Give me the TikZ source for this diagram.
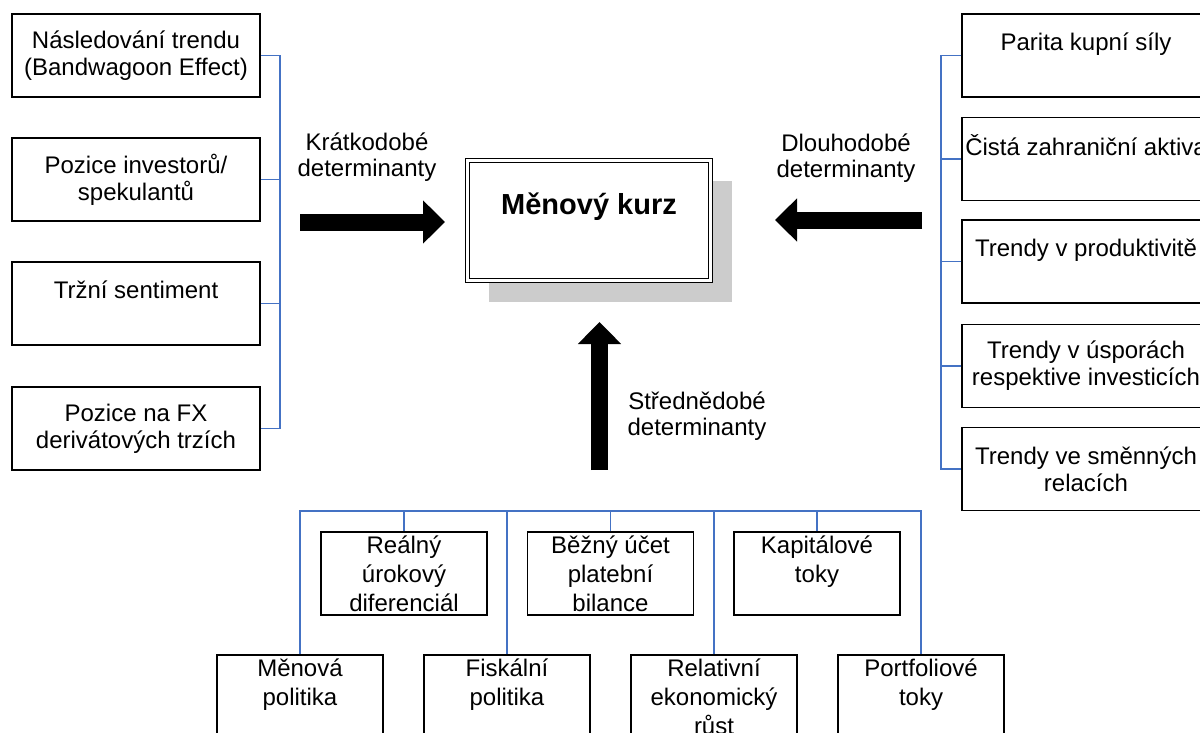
\documentclass[tikz,border=0pt]{standalone}
\usepackage{fontspec}
\setmainfont{Liberation Sans}
\usepackage{tikz}
\usetikzlibrary{arrows.meta, shadows}
\definecolor{busblue}{RGB}{68, 114, 196}
\definecolor{shadowgray}{RGB}{204, 204, 204}
\tikzset{
    factor/.style={rectangle, draw=black, line width=1.5pt, minimum width=248pt, minimum height=83pt, inner sep=0pt, align=center, font=\fontsize{24}{27}\selectfont},
    smallfactor/.style={factor, minimum width=166pt, font=\fontsize{24}{29}\selectfont},
    kurzbox/.style={rectangle, draw=black, line width=1.2pt, double, double distance=2.6pt, minimum width=243pt, minimum height=120pt, align=center, fill=white, font=\fontsize{29}{33}\selectfont\bfseries, drop shadow={shadow xshift=21pt, shadow yshift=-21pt, fill=shadowgray, opacity=1}},
    detlabel/.style={align=center, inner sep=0pt, font=\fontsize{24}{26}\selectfont},
    bline/.style={draw=busblue, line width=1.5pt},
    fatarrow/.style={line width=17pt, -{Triangle[length=22pt,width=42pt]}},
}

\begin{document}
\begin{tikzpicture}[x=1pt, y=-1pt]
  \useasboundingbox (0,0) rectangle (1200,733);
  \clip (0,0) rectangle (1200,733);

  \node[kurzbox] (kurz) at (589,220.5) {Měnový kurz\\~};

  \node[factor] (l1) at (136,55.5)  {Následování trendu\\(Bandwagoon Effect)};
  \node[factor] (l2) at (136,179.5) {Pozice investorů/\\spekulantů};
  \node[factor] (l3) at (136,303.5) {Tržní sentiment\\~};
  \node[factor] (l4) at (136,428.5) {Pozice na FX\\derivátových trzích};

  \node[factor] (r1) at (1086,55.5) {Parita kupní síly\\~};
  \node[factor] (r2) at (1086,159)  {Čistá zahraniční aktiva\\~};
  \node[factor] (r3) at (1086,261.5) {Trendy v produktivitě\\~};
  \node[factor] (r4) at (1086,366)  {Trendy v úsporách\\respektive investicích};
  \node[factor] (r5) at (1086,469)  {Trendy ve směnných\\relacích};

  \node[smallfactor] (t1) at (404,573.5)   {Reálný\\úrokový\\diferenciál};
  \node[smallfactor] (t2) at (610.5,573.5) {Běžný účet\\platební\\bilance};
  \node[smallfactor] (t3) at (817,573.5)   {Kapitálové\\toky\\~};

  \node[smallfactor] (b1) at (300,696.5) {Měnová\\politika\\~};
  \node[smallfactor] (b2) at (507,696.5) {Fiskální\\politika\\~};
  \node[smallfactor] (b3) at (714,696.5) {Relativní\\ekonomický\\růst};
  \node[smallfactor] (b4) at (921,696.5) {Portfoliové\\toky\\~};

  \node[detlabel] (kratko) at (367,157.5) {Krátkodobé\\determinanty};
  \node[detlabel] (dlouho) at (846,158.5) {Dlouhodobé\\determinanty};
  \node[detlabel] (stredne) at (697,416.5) {Střednědobé\\determinanty};

  \coordinate (lbus) at (280,0);
  \coordinate (rbus) at (941,0);
  \coordinate (bbus) at (0,511);

  \draw[bline] (l1.east) -- (l1.east -| lbus) -- (l4.east -| lbus) -- (l4.east);
  \foreach \n in {l2,l3}
    \draw[bline] (\n.east) -- (\n.east -| lbus);

  \draw[bline] (r1.west) -- (r1.west -| rbus) -- (r5.west -| rbus) -- (r5.west);
  \foreach \n in {r2,r3,r4}
    \draw[bline] (\n.west) -- (\n.west -| rbus);

  \draw[bline] (b1.north) -- (b1.north |- bbus) -- (b4.north |- bbus) -- (b4.north);
  \foreach \n in {t1,t2,t3,b2,b3}
    \draw[bline] (\n.north) -- (\n.north |- bbus);

  \coordinate (kfrom) at (300,222);
  \coordinate (kto) at (445,222);
  \coordinate (dfrom) at (922,220);
  \coordinate (dto) at (775,220);
  \coordinate (sfrom) at (599.5,470);
  \coordinate (sto) at (599.5,322);
  \draw[fatarrow] (kfrom) -- (kto);
  \draw[fatarrow] (dfrom) -- (dto);
  \draw[fatarrow] (sfrom) -- (sto);
\end{tikzpicture}
\end{document}
